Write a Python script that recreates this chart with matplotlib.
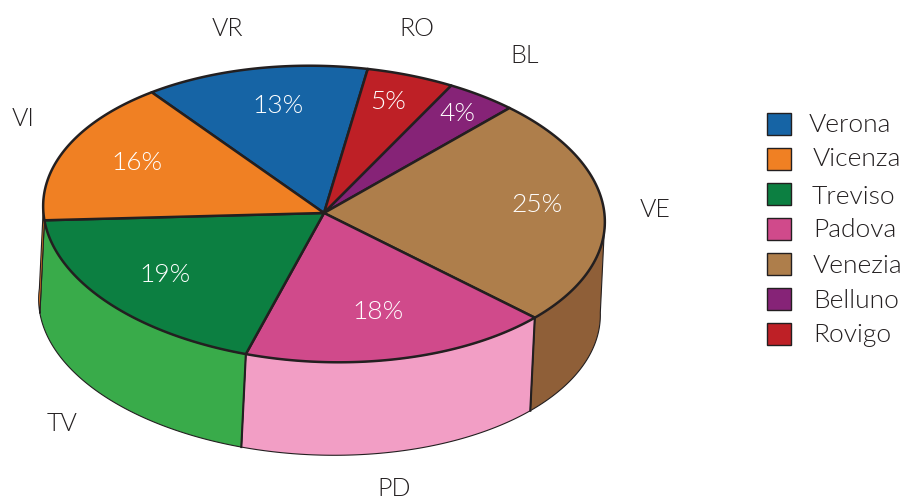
import numpy as np
import matplotlib
matplotlib.use("Agg")
import matplotlib.pyplot as plt
from matplotlib.patches import Polygon, Rectangle

codes = ["VR", "RO", "BL", "VE", "PD", "TV", "VI"]
values = [13, 5, 4, 25, 18, 19, 16]
pct_labels = ["13%", "5%", "4%", "25%", "18%", "19%", "16%"]
top_colors = ["#1664A5", "#BE2026", "#862377", "#AE7E4B", "#D04A8B", "#0C7F41", "#F08023"]
side_colors = ["#1664A5", "#BE2026", "#862377", "#8F5F38", "#F29EC5", "#39AB4A", "#F08023"]
legend_names = ["Verona", "Vicenza", "Treviso", "Padova", "Venezia", "Belluno", "Rovigo"]
legend_colors = ["#1664A5", "#F08023", "#0C7F41", "#D04A8B", "#AE7E4B", "#862377", "#BE2026"]

plt.rcParams["font.family"] = ["Lato", "DejaVu Sans"]
plt.rcParams["font.weight"] = 300
fig = plt.figure(figsize=(9.06, 5.0), dpi=100)
ax = fig.add_axes([0, 0, 1, 1])
ax.set_xlim(0, 906)
ax.set_ylim(500, 0)
ax.axis("off")

CX, CY, RX, RY = 324, 214, 281, 148
PHI = np.radians(2.2)
DX, DY = -4.5, 93
START = -39.0
INK = "#231F20"


def proj(t_deg):
    t = np.radians(np.asarray(t_deg, dtype=float))
    x = RX * np.sin(t)
    y = -RY * np.cos(t)
    return np.column_stack([CX + x * np.cos(PHI) - y * np.sin(PHI),
                            CY + x * np.sin(PHI) + y * np.cos(PHI)])


edges = START + 360 * np.cumsum([0] + values) / sum(values)
FRONT_A, FRONT_B = 88, 272  # visible arc of the outer wall

# outer walls, right to left
for i in [3, 4, 5, 6]:
    a = max(edges[i], FRONT_A)
    b = min(edges[i + 1], FRONT_B + 1)
    if b <= a:
        continue
    arc = proj(np.linspace(a, b, 80))
    low = arc[::-1] + [DX, DY]
    ax.add_patch(Polygon(np.vstack([arc, low]), closed=True, fc=side_colors[i],
                         ec=INK, lw=0.8, joinstyle="round", zorder=2))

# heavier seams between walls
for e in [edges[4], edges[5]]:
    p = proj([e])[0]
    ax.plot([p[0], p[0] + DX], [p[1], p[1] + DY], color=INK, lw=1.5, zorder=3)

# top face
for i in range(len(values)):
    arc = proj(np.linspace(edges[i], edges[i + 1], 80))
    pts = np.vstack([[CX, CY - 1], arc])
    ax.add_patch(Polygon(pts, closed=True, fc=top_colors[i], ec=INK, lw=1.8,
                         joinstyle="round", zorder=4))

# percentage labels
pct_xy = [(278, 106), (388, 102), (457, 114), (537, 205), (378, 312), (165, 275), (137, 163)]
for s, (x, y) in zip(pct_labels, pct_xy):
    ax.text(x, y, s, color="white", fontsize=19, ha="center", va="center", zorder=6)

# outer labels
code_xy = [(227, 29), (417, 29), (525, 56), (655, 210), (394, 489), (62, 424), (23, 119)]
for s, (x, y) in zip(codes, code_xy):
    ax.text(x, y, s, color=INK, fontsize=18, ha="center", va="center", zorder=6)

# legend
leg_y = [124, 159, 194, 229, 264, 299, 334]
leg_tx = [809, 813, 812, 813, 813, 813, 813]
leg_ty = [125, 159, 197, 230, 266, 301, 335]
for n, c, y, tx, ty in zip(legend_names, legend_colors, leg_y, leg_tx, leg_ty):
    ax.add_patch(Rectangle((767, y - 11), 24, 22, fc=c, ec=INK, lw=1.0, zorder=5))
    ax.text(tx, ty, n, color=INK, fontsize=19, ha="left", va="center", zorder=6)

fig.savefig("out.png", dpi=100)
